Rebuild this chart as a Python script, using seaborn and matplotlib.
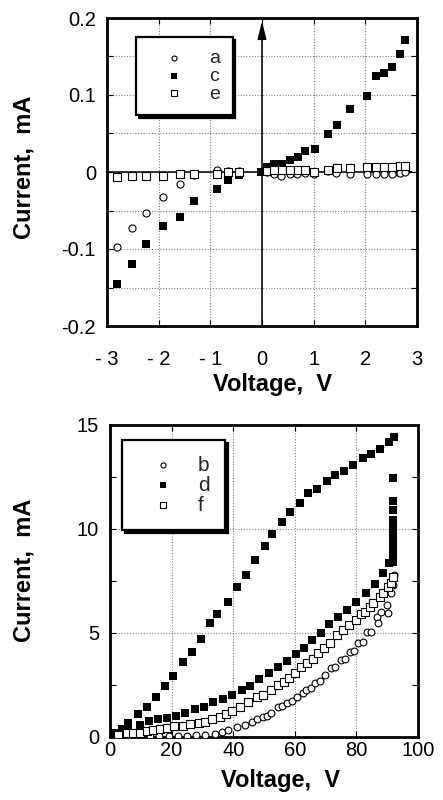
import numpy as np
import matplotlib
matplotlib.use("Agg")
import matplotlib.pyplot as plt
from matplotlib.ticker import MultipleLocator, FixedLocator, FixedFormatter
import seaborn as sns

# ---- low-voltage sweep (upper panel), current in mA ----
volt_a = [-2.81, -2.52, -2.25, -1.91, -1.59, -1.32, -0.88, -0.66, -0.44,
          0.09, 0.23, 0.37, 0.54, 0.68, 0.83, 1.00, 1.28, 1.44, 1.70,
          2.04, 2.20, 2.37, 2.51, 2.67, 2.76]
curr_a = [-0.098, -0.073, -0.053, -0.032, -0.016, -0.004, 0.003, 0.001, 0.001,
          0.000, -0.002, -0.005, -0.002, -0.003, -0.001, -0.002, 0.001, -0.001, -0.003,
          -0.002, -0.003, -0.002, -0.002, -0.001, 0.000]

volt_c = [-2.81, -2.52, -2.25, -1.91, -1.59, -1.32, -0.88, -0.66, -0.44, -0.01,
          0.09, 0.23, 0.39, 0.54, 0.69, 0.83, 1.02, 1.28, 1.45, 1.70,
          2.03, 2.20, 2.37, 2.51, 2.67, 2.76]
curr_c = [-0.146, -0.119, -0.094, -0.070, -0.059, -0.038, -0.022, -0.010, -0.004, 0.000,
          0.006, 0.010, 0.011, 0.016, 0.019, 0.027, 0.030, 0.049, 0.061, 0.082,
          0.099, 0.125, 0.129, 0.137, 0.153, 0.171]

volt_e = [-2.81, -2.52, -2.25, -1.91, -1.59, -1.32, -0.88, -0.66, -0.44,
          0.09, 0.23, 0.39, 0.54, 0.69, 0.83, 1.00, 1.28, 1.46, 1.70,
          2.04, 2.20, 2.37, 2.51, 2.67, 2.76]
curr_e = [-0.007, -0.005, -0.005, -0.005, -0.003, -0.003, -0.002, 0.000, 0.000,
          0.001, 0.002, 0.002, 0.003, 0.002, 0.003, 0.000, 0.003, 0.005, 0.005,
          0.007, 0.006, 0.007, 0.007, 0.008, 0.008]

# ---- high-voltage sweep (lower panel), current in mA ----
volt_b = [4, 7, 10, 13, 16, 19, 22, 25, 28, 31, 34, 36.5, 38.4, 41.1, 43.8, 46.0,
          47.6, 49.8, 51.0, 52.2, 54.6, 56.0, 57.4, 59.0, 60.8, 62.5, 63.6, 65.2,
          66.6, 68.2, 69.8, 71.7, 73.2, 74.9, 76.4, 77.9, 79.2, 80.6, 82.2, 83.3,
          84.8, 86.6, 87.1, 88.0, 89.8, 90.4, 91.3, 92.0, 92.2]
curr_b = [0.02, 0.03, 0.03, 0.04, 0.05, 0.05, 0.06, 0.07, 0.09, 0.11, 0.15, 0.22,
          0.34, 0.47, 0.58, 0.72, 0.88, 0.98, 1.02, 1.14, 1.43, 1.50, 1.65, 1.75,
          1.94, 2.10, 2.26, 2.35, 2.61, 2.70, 2.98, 3.30, 3.35, 3.70, 3.75, 4.10,
          4.15, 4.53, 4.55, 5.03, 5.03, 5.78, 5.50, 6.00, 6.35, 5.95, 6.90, 7.30, 7.80]

volt_d = [0.5, 1.6, 3.8, 5.9, 9.0, 11.9, 14.8, 17.9, 20.6, 23.8, 26.6, 29.5, 32.5,
          34.8, 38.2, 41.2, 44.2, 47.0, 50.2, 52.6, 55.8, 58.3, 61.7, 64.3, 67.3,
          70.3, 73.2, 76.0, 79.0, 82.0, 84.6, 87.7, 90.5, 92.2,
          92.0, 92.0, 92.0, 92.0, 92.0, 92.0, 92.0, 92.0, 92.0, 92.0, 92.0, 92.0,
          92.0, 92.0,
          2.7, 5.7, 9.7, 12.8, 15.7, 18.6, 21.4, 24.4, 27.6, 30.6, 33.3, 36.6,
          39.5, 42.8, 45.5, 48.5, 51.6, 54.6, 57.6, 60.3, 63.0, 65.7, 68.4, 71.2,
          74.1, 77.1, 79.9, 83.0, 85.9, 88.7, 90.7]
curr_d = [0.05, 0.18, 0.38, 0.66, 1.09, 1.46, 1.90, 2.45, 2.93, 3.62, 4.07, 4.70, 5.50,
          5.91, 6.50, 7.23, 7.80, 8.50, 9.18, 9.74, 10.35, 10.83, 11.23, 11.74, 11.92,
          12.32, 12.60, 12.80, 13.06, 13.40, 13.62, 13.85, 14.18, 14.44,
          12.45, 11.36, 10.90, 10.45, 10.20, 10.00, 9.80, 9.60, 9.40, 9.20, 9.00, 8.80,
          8.60, 8.40,
          0.15, 0.40, 0.60, 0.75, 0.85, 0.92, 1.02, 1.14, 1.33, 1.43, 1.67, 1.81,
          2.02, 2.26, 2.47, 2.77, 3.06, 3.35, 3.65, 3.97, 4.26, 4.66, 5.01, 5.41,
          5.78, 6.10, 6.50, 6.93, 7.36, 7.87, 8.35]

volt_f = [2.5, 5.4, 7.6, 9.7, 11.9, 14.1, 16.2, 18.4, 20.9, 23.6, 26.0, 29.0, 30.8,
          33.2, 35.7, 37.6, 39.5, 42.2, 44.9, 47.6, 49.8, 52.2, 54.6, 56.6, 58.2,
          60.1, 62.0, 64.1, 65.8, 67.6, 69.5, 71.4, 73.8, 75.7, 77.7, 79.9, 81.5,
          82.8, 84.4, 85.5, 87.7, 88.7, 90.4, 91.2, 91.8]
curr_f = [0.08, 0.18, 0.18, 0.21, 0.29, 0.34, 0.37, 0.42, 0.53, 0.53, 0.61, 0.69, 0.74,
          0.85, 0.95, 1.10, 1.26, 1.43, 1.70, 1.94, 2.02, 2.26, 2.50, 2.66, 2.82,
          3.09, 3.35, 3.54, 3.73, 4.02, 4.26, 4.53, 4.90, 5.14, 5.38, 5.63, 5.91,
          6.02, 6.26, 6.42, 6.74, 6.90, 7.22, 7.38, 7.70]

top_xticks = [-3, -2, -1, 0, 1, 2, 3]
top_xlabels = ["- 3", "- 2", "- 1", "0", "1", "2", "3"]
top_yticks = [-0.2, -0.1, 0.0, 0.1, 0.2]
top_ylabels = ["-0.2", "-0.1", "0", "0.1", "0.2"]
bot_xticks = [0, 20, 40, 60, 80, 100]
bot_yticks = [0, 5, 10, 15]

sns.set_theme(style="white")
plt.rcParams["font.family"] = ["Liberation Sans", "DejaVu Sans"]

fig = plt.figure(figsize=(4.43, 8.0), dpi=100)
ax1 = fig.add_axes([107 / 443, 1 - 326 / 800, 310 / 443, 308 / 800])
ax2 = fig.add_axes([110 / 443, 1 - 737 / 800, 308 / 443, 312 / 800])

open_kw = dict(facecolor="white", edgecolor="black", linewidth=0.8, zorder=4)
fill_kw = dict(color="black", linewidth=0, zorder=4)

# upper panel
sns.scatterplot(x=volt_a, y=curr_a, ax=ax1, marker="o", s=26, label="a", **open_kw)
sns.scatterplot(x=volt_c, y=curr_c, ax=ax1, marker="s", s=36, label="c", **fill_kw)
sns.scatterplot(x=volt_e, y=curr_e, ax=ax1, marker="s", s=28, label="e", **open_kw)

# lower panel
sns.scatterplot(x=volt_b, y=curr_b, ax=ax2, marker="o", s=24, label="b", **open_kw)
sns.scatterplot(x=volt_d, y=curr_d, ax=ax2, marker="s", s=30, label="d", **fill_kw)
sns.scatterplot(x=volt_f, y=curr_f, ax=ax2, marker="s", s=28, label="f", **open_kw)

grid_kw = dict(color="#808080", linestyle=(0, (1, 1.5)), linewidth=0.8)

# upper panel axes
ax1.set_xlim(-3, 3)
ax1.set_ylim(-0.2, 0.2)
ax1.xaxis.set_major_locator(FixedLocator(top_xticks))
ax1.xaxis.set_major_formatter(FixedFormatter(top_xlabels))
ax1.yaxis.set_major_locator(FixedLocator(top_yticks))
ax1.yaxis.set_major_formatter(FixedFormatter(top_ylabels))
ax1.yaxis.set_minor_locator(MultipleLocator(0.05))
ax1.grid(True, which="both", axis="y", **grid_kw)
ax1.grid(True, which="major", axis="x", **grid_kw)
ax1.tick_params(axis="x", which="major", pad=17)

# axis arrows through the origin
arrow_kw = dict(arrowstyle="-|>,head_length=0.9,head_width=0.22", color="black",
                lw=1.1, shrinkA=0, shrinkB=0)
ax1.annotate("", xy=(0, 0.196), xytext=(0, -0.2), arrowprops=arrow_kw, zorder=3)
ax1.annotate("", xy=(2.96, 0), xytext=(-3, 0), arrowprops=arrow_kw, zorder=3)

# lower panel axes
ax2.set_xlim(0, 100)
ax2.set_ylim(0, 15)
ax2.set_xticks(bot_xticks)
ax2.set_yticks(bot_yticks)
ax2.yaxis.set_minor_locator(MultipleLocator(2.5))
ax2.grid(True, which="major", **grid_kw)
ax2.tick_params(axis="x", which="major", pad=3)

for ax in (ax1, ax2):
    ax.set_xlabel("")
    ax.set_ylabel("")
    ax.set_axisbelow(True)
    for sp in ax.spines.values():
        sp.set_linewidth(2.0)
        sp.set_color("black")
        sp.set_visible(True)
    ax.tick_params(which="both", direction="in", top=True, right=True,
                   left=True, bottom=True, length=4, width=0.8, color="black",
                   labelsize=14.5, labelcolor="black")
    ax.tick_params(axis="y", which="major", pad=8)

leg_kw = dict(loc="upper left", frameon=True, fancybox=False, framealpha=1,
              edgecolor="black", borderaxespad=0,
              shadow={"color": "black", "alpha": 1.0})
leg1 = ax1.legend(bbox_to_anchor=(0.094, 0.938), fontsize=14, markerscale=0.7,
                  handlelength=2.6, handletextpad=0.5, borderpad=0.65,
                  labelspacing=0.0, **leg_kw)
leg2 = ax2.legend(bbox_to_anchor=(0.039, 0.952), fontsize=15, markerscale=0.75,
                  handlelength=2.4, handletextpad=0.5, borderpad=0.75,
                  labelspacing=0.05, **leg_kw)
for leg in (leg1, leg2):
    leg.get_frame().set_linewidth(1.6)
    leg.set_zorder(6)

label_kw = dict(fontsize=17, fontweight="bold", color="black")
fig.text(24 / 443, 1 - 167 / 800, "Current,  mA", rotation=90,
         ha="center", va="center", **label_kw)
fig.text(24 / 443, 1 - 570 / 800, "Current,  mA", rotation=90,
         ha="center", va="center", **label_kw)
fig.text(273 / 443, 1 - 384 / 800, "Voltage,  V", ha="center", va="center", **label_kw)
fig.text(281 / 443, 1 - 780 / 800, "Voltage,  V", ha="center", va="center", **label_kw)

fig.savefig("out.png", dpi=100, facecolor="white")
